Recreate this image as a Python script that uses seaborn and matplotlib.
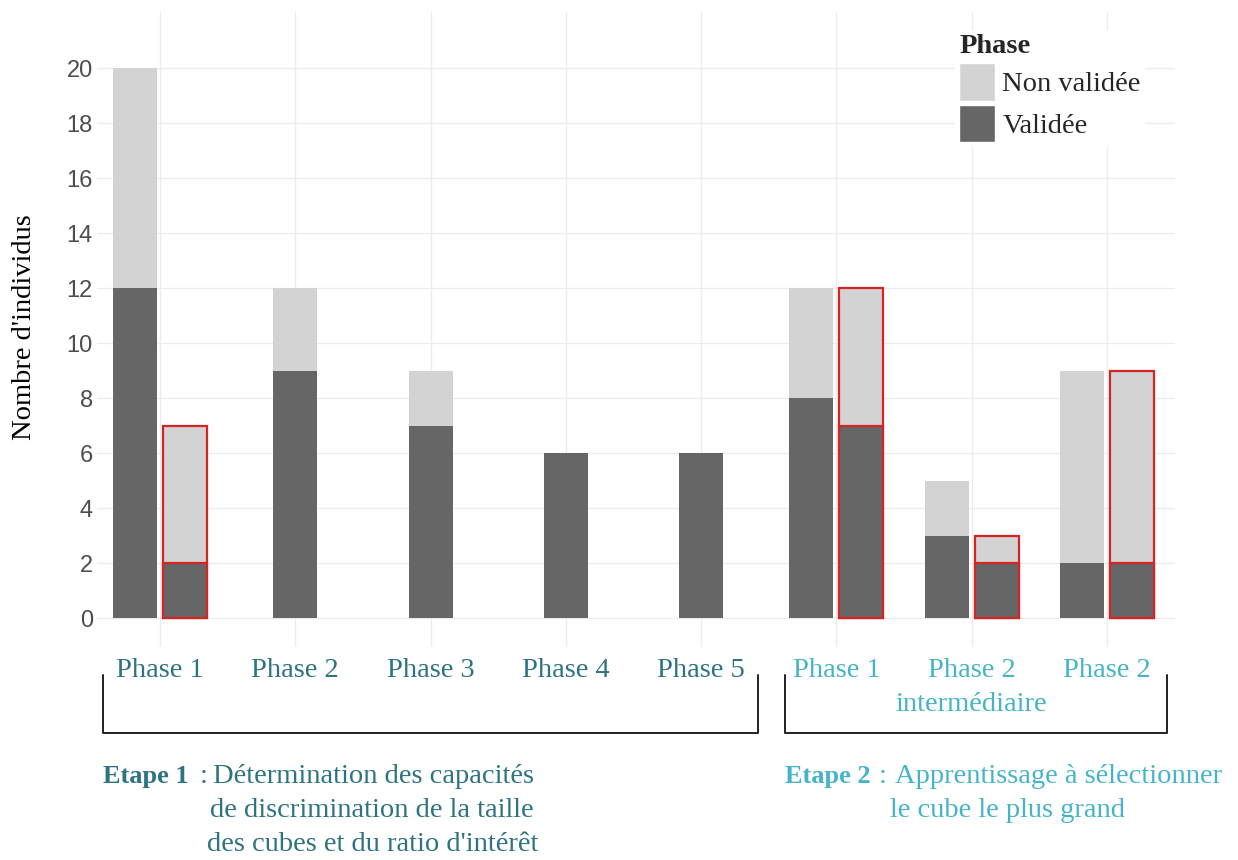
import numpy as np
import pandas as pd
import matplotlib.pyplot as plt
import seaborn as sns
from matplotlib.patches import Patch
from matplotlib.lines import Line2D

# data
tick_labels = ["Phase 1", "Phase 2", "Phase 3", "Phase 4", "Phase 5",
               "Phase 1", "Phase 2\nintermédiaire", "Phase 2"]
# first (grey) bar of each group
valid_a = [12, 9, 7, 6, 6, 8, 3, 2]
nonvalid_a = [8, 3, 2, 0, 0, 4, 2, 7]
# second (red outlined) bar, None where there is none
valid_b = [2, None, None, None, None, 7, 2, 2]
nonvalid_b = [5, None, None, None, None, 5, 1, 7]

light = "#d3d3d3"
dark = "#666666"
red = "#d42424"
teal1 = "#2d7381"
teal2 = "#45b4c9"
label_colors = [teal1] * 5 + [teal2] * 3
FS = 20.5

sns.set_theme(style="white")
plt.rcParams["font.family"] = ["Liberation Serif", "DejaVu Serif"]

# build bar table
rows = []
off = 0.185
for i in range(len(tick_labels)):
    if valid_b[i] is None:
        rows.append(dict(x=i, valid=valid_a[i], total=valid_a[i] + nonvalid_a[i], red=False))
    else:
        rows.append(dict(x=i - off, valid=valid_a[i], total=valid_a[i] + nonvalid_a[i], red=False))
        rows.append(dict(x=i + off, valid=valid_b[i], total=valid_b[i] + nonvalid_b[i], red=True))
bars = pd.DataFrame(rows)
red_x = bars.loc[bars["red"], "x"].values

W, H = 1238, 860
fig = plt.figure(figsize=(W / 100, H / 100), dpi=100)
ax = fig.add_axes([97 / W, 1 - 647 / H, (1175 - 97) / W, (647 - 12) / H])

bw = 0.325 / (2 * off)
sns.barplot(data=bars, x="x", y="total", native_scale=True, width=bw, color=light,
            saturation=1, errorbar=None, edgecolor="none", linewidth=0, ax=ax)
sns.barplot(data=bars, x="x", y="valid", native_scale=True, width=bw, color=dark,
            saturation=1, errorbar=None, edgecolor="none", linewidth=0, ax=ax)

for p in ax.patches:
    cx = p.get_x() + p.get_width() / 2
    if np.any(np.isclose(cx, red_x, atol=0.01)):
        p.set_edgecolor(red)
        p.set_linewidth(1.6)

ax.set_xlim(-0.466, 7.503)
ax.set_ylim(-1.05, 22.04)
ax.set_yticks(range(0, 21, 2))
ax.set_xticks(range(len(tick_labels)))
ax.set_xticklabels(tick_labels, fontsize=FS, linespacing=1.45)
for lbl, c in zip(ax.get_xticklabels(), label_colors):
    lbl.set_color(c)
for lbl in ax.get_yticklabels():
    lbl.set_fontfamily("Liberation Sans")
    lbl.set_fontsize(17)
    lbl.set_color("#4d4d4d")
ax.tick_params(axis="both", length=0)
ax.tick_params(axis="x", pad=8)
ax.tick_params(axis="y", pad=3)
ax.set_axisbelow(True)
ax.grid(True, color="#ececec", linewidth=0.9)
ax.set_xlabel("")
ax.set_ylabel("")
sns.despine(ax=ax, left=True, bottom=True)

fig.text(25 / W, 1 - 327 / H, "Nombre d'individus", rotation=90, ha="center",
         va="center", fontsize=FS, color="black")

leg = ax.legend(handles=[Patch(facecolor=light, label="Non validée"),
                         Patch(facecolor=dark, label="Validée")],
                title="Phase", loc="upper left", bbox_to_anchor=(955 / W, 1 - 30 / H),
                bbox_transform=fig.transFigure, fontsize=FS, handlelength=1.26,
                handleheight=1.65, handletextpad=0.25, labelspacing=0.14,
                borderpad=0.15, borderaxespad=0, alignment="left",
                frameon=True, facecolor="white", edgecolor="none", framealpha=1)
leg.get_title().set_fontweight("bold")
leg.get_title().set_fontsize(FS)


def fig_line(xs, ys):
    fig.add_artist(Line2D([x / W for x in xs], [1 - y / H for y in ys],
                          color="#222222", linewidth=1.4))


fig_line([103, 103, 758, 758], [675, 733, 733, 675])
fig_line([785, 785, 1167, 1167], [675, 733, 733, 675])

# step captions
fig.text(103 / W, 1 - 783 / H, "Etape 1", fontsize=19, fontweight="bold",
         color=teal1, va="baseline")
fig.text(204 / W, 1 - 783 / H, ":", fontsize=FS, color=teal1, va="baseline", ha="center")
for line, x0, yb in [("Détermination des capacités", 213, 783),
                     ("de discrimination de la taille", 210, 817),
                     ("des cubes et du ratio d'intérêt", 207, 851)]:
    fig.text(x0 / W, 1 - yb / H, line, fontsize=FS, color=teal1, va="baseline")

fig.text(785 / W, 1 - 783 / H, "Etape 2", fontsize=19, fontweight="bold",
         color=teal2, va="baseline")
fig.text(883 / W, 1 - 783 / H, ":", fontsize=FS, color=teal2, va="baseline", ha="center")
fig.text(895 / W, 1 - 783 / H, "Apprentissage à sélectionner", fontsize=FS,
         color=teal2, va="baseline")
fig.text(890 / W, 1 - 817 / H, "le cube le plus grand", fontsize=FS, color=teal2,
         va="baseline")

fig.savefig("out.png", dpi=100)
